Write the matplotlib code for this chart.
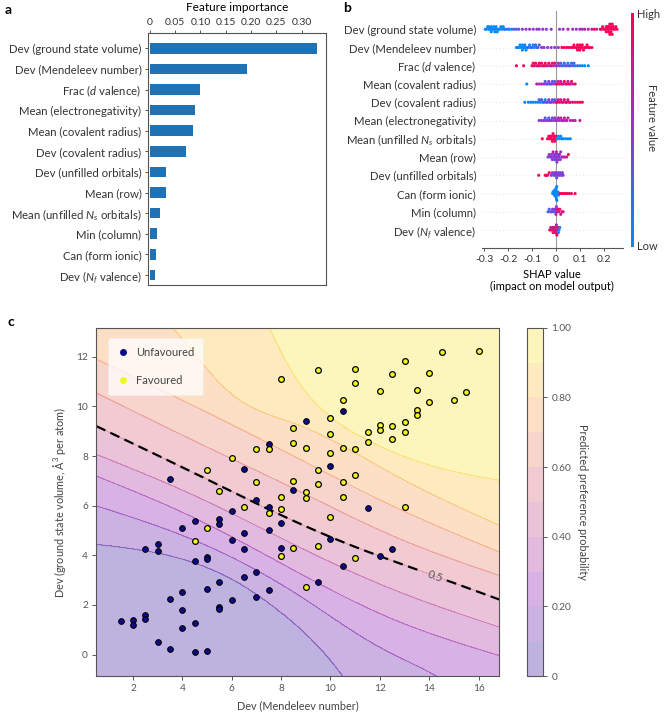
import numpy as np
import matplotlib
matplotlib.use('Agg')
import matplotlib.pyplot as plt
from matplotlib.colors import LinearSegmentedColormap, Normalize
from matplotlib.lines import Line2D
import matplotlib.colorbar as mcolorbar

plt.rcParams['font.family'] = ['Lato', 'DejaVu Sans']
plt.rcParams['mathtext.fontset'] = 'custom'
plt.rcParams['mathtext.it'] = 'Lato:italic'
plt.rcParams['mathtext.rm'] = 'Lato'
plt.rcParams['axes.unicode_minus'] = False

W, H = 669, 717

# ---------------- Panel a data ----------------
features_a = ['Dev (ground state volume)', 'Dev (Mendeleev number)', r'Frac ($d$ valence)',
              'Mean (electronegativity)', 'Mean (covalent radius)', 'Dev (covalent radius)',
              'Dev (unfilled orbitals)', 'Mean (row)', r'Mean (unfilled $N_s$ orbitals)',
              'Min (column)', 'Can (form ionic)', r'Dev ($N_f$ valence)']
importance = [0.331, 0.193, 0.100, 0.089, 0.085, 0.072, 0.033, 0.032, 0.021, 0.015, 0.012, 0.010]
imp_ticks = [0, 0.05, 0.10, 0.15, 0.20, 0.25, 0.30]
imp_ticklabels = ['0', '0.05', '0.10', '0.15', '0.20', '0.25', '0.30']

# ---------------- Panel b data ----------------
features_b = ['Dev (ground state volume)', 'Dev (Mendeleev number)', r'Frac ($d$ valence)',
              'Mean (covalent radius)', 'Dev (covalent radius)', 'Mean (electronegativity)',
              r'Mean (unfilled $N_s$ orbitals)', 'Mean (row)', 'Dev (unfilled orbitals)',
              'Can (form ionic)', 'Min (column)', r'Dev ($N_f$ valence)']
# SHAP values per row and feature-value codes (B=low ... R=high)
shap1 = [-0.295, -0.29, -0.285, -0.28, -0.28, -0.275, -0.27, -0.27, -0.265, -0.26, -0.26, -0.255,
         -0.25, -0.25, -0.245, -0.24, -0.235, -0.23, -0.225, -0.22, -0.215, -0.21, -0.2, -0.195,
         -0.185, -0.175, -0.165, -0.155, -0.14, -0.125, -0.11, -0.095, -0.08, -0.07, -0.055, -0.04,
         -0.02, 0.015, 0.03, 0.05, 0.07, 0.085, 0.1, 0.11, 0.12, 0.135, 0.15, 0.16, 0.17,
         0.185, 0.19, 0.195, 0.2, 0.205, 0.21, 0.21, 0.215, 0.215, 0.22, 0.22, 0.22, 0.225, 0.225,
         0.23, 0.23, 0.23, 0.235, 0.235, 0.24, 0.24, 0.245, 0.25, 0.255]
code1 = 'BBBBBBBBBBBBBBBBBBBBbBbBBbbb' + 'PPPPPPPPP' + 'PPpPPpPpppRp' + 'RRRRRRRRRRRRRRRRRRRRRRRR'
shap2 = [-0.165, -0.16, -0.155, -0.15, -0.145, -0.14, -0.14, -0.135, -0.13, -0.13, -0.125, -0.12,
         -0.115, -0.11, -0.105, -0.1, -0.095, -0.09, -0.085, -0.08, -0.075, -0.07,
         -0.06, -0.05, -0.035, -0.02, -0.005, 0.01,
         0.025, 0.035, 0.045, 0.055, 0.065, 0.07, 0.075, 0.08, 0.085, 0.09, 0.09, 0.095, 0.1, 0.1,
         0.105, 0.11, 0.11, 0.115, 0.12, 0.125, 0.13, 0.135, 0.14, 0.15]
code2 = 'BBBBBBBBBBBBbBBbBBbBbb' + 'PPPPPP' + 'RRRRRRRRRRRRRRRRRRRRRRRR'
shap3 = [-0.165, -0.135, -0.1, -0.095, -0.09, -0.085, -0.08, -0.075, -0.07, -0.065, -0.06, -0.055,
         -0.05, -0.045, -0.04, -0.035, -0.03, -0.025, -0.02, -0.015, -0.01, -0.005,
         0.0, 0.005, 0.01, 0.015,
         0.02, 0.025, 0.03, 0.035, 0.04, 0.045, 0.05, 0.055, 0.06, 0.065, 0.07, 0.075, 0.08, 0.09,
         0.1, 0.11, 0.12, 0.135]
code3 = 'RRRRRRpRRRRpRRRpRPRRpR' + 'PPPP' + 'bbBbPbBbbBbbBb' + 'BBBB'
shap4 = [-0.122, -0.08, -0.07, -0.06, -0.05, -0.045, -0.04, -0.035, -0.03, -0.025, -0.02, -0.015,
         -0.01, -0.005, 0.0, 0.005, 0.01, 0.015, 0.02, 0.025, 0.03, 0.035, 0.04, 0.045, 0.05, 0.055,
         0.06, 0.065, 0.07, 0.08]
code4 = 'BpPpPbPbPbPbPb' + 'pRpRpRpRpRpRpRpR'
shap5 = [-0.13, -0.115, -0.105, -0.095, -0.085, -0.075, -0.07, -0.065, -0.06, -0.055, -0.05,
         -0.045, -0.04, -0.035, -0.03, -0.025, -0.02, -0.015, -0.01, -0.005,
         0.0, 0.005, 0.01, 0.015, 0.02, 0.025, 0.03, 0.035, 0.04, 0.045, 0.05, 0.055, 0.06, 0.07,
         0.08, 0.09, 0.1, 0.11]
code5 = 'BBBBBBbBbBbBPbPbPbPb' + 'pRpRpRpRpRpRpRpRRR'
shap6 = [-0.07, -0.06, -0.05, -0.045, -0.04, -0.035, -0.03, -0.025, -0.02, -0.015, -0.01, -0.005,
         0.0, 0.005, 0.01, 0.015, 0.02, 0.025, 0.03, 0.035, 0.04, 0.045, 0.05, 0.06, 0.07, 0.08, 0.1]
code6 = 'PPPbPPbPPbPP' + 'pPpPpPppPpppppp'
shap7 = [-0.057, -0.035, -0.03, -0.025, -0.022, -0.02, -0.018, -0.015, -0.012, -0.01, -0.008,
         -0.005, -0.003, 0.0, 0.005, 0.01, 0.015, 0.02, 0.025, 0.03, 0.04, 0.05, 0.06]
code7 = 'RRRRRRRRRRRRRR' + 'BBBBBBBBB'
shap8 = [-0.033, -0.028, -0.024, -0.02, -0.018, -0.015, -0.012, -0.01, -0.008, -0.006, -0.004,
         -0.002, 0.0, 0.002, 0.004, 0.006, 0.008, 0.01, 0.012, 0.015, 0.018, 0.02, 0.024,
         0.03, 0.038, 0.045, 0.052]
code8 = 'PPbPPPpPPbPPPpPPbPPpPPP' + 'pppR'
shap9 = [-0.072, -0.045, -0.04, -0.035, -0.028, -0.02, -0.015, -0.01, -0.006, -0.003, 0.0, 0.003,
         0.006, 0.01, 0.014, 0.018, 0.022, 0.027, 0.03]
code9 = 'RRRRR' + 'PPbPPPbPPPbPPP'
shap10 = [-0.014, -0.012, -0.01, -0.008, -0.006, -0.005, -0.004, -0.003, -0.002, -0.001, 0.0,
          0.001, 0.002, 0.003, 0.004, 0.006, 0.008, 0.01,
          0.017, 0.025, 0.032, 0.04, 0.048, 0.056, 0.065, 0.08]
code10 = 'BBBBBBBBBBBBBBBBBB' + 'RRRRRRRR'
shap11 = [-0.033, -0.028, -0.022, -0.018, -0.014, -0.01, -0.007, -0.004, -0.002,
          0.0, 0.002, 0.005, 0.008, 0.012, 0.016, 0.02, 0.025, 0.03]
code11 = 'bbPbPbPbP' + 'pPpRpRpRp'
shap12 = [-0.026, -0.022, -0.018, -0.015, -0.012, -0.01, -0.008, -0.006, -0.004, -0.002, 0.0,
          0.002, 0.004, 0.006, 0.008, 0.01, 0.013, 0.016]
code12 = 'RpRpRpRpRpRpRpR' + 'bBB'
shap_rows = [shap1, shap2, shap3, shap4, shap5, shap6, shap7, shap8, shap9, shap10, shap11, shap12]
code_rows = [code1, code2, code3, code4, code5, code6, code7, code8, code9, code10, code11, code12]
code_values = {'B': 0.02, 'b': 0.28, 'P': 0.5, 'p': 0.72, 'R': 0.97}
shap_ticks = [-0.3, -0.2, -0.1, 0, 0.1, 0.2]
shap_ticklabels = ['-0.3', '-0.2', '-0.1', '0', '0.1', '0.2']

# ---------------- Panel c data ----------------
unf_x = [1.5, 2, 2, 2.5, 2.5, 2.5, 3, 3, 3, 3.5, 3.5, 3.5, 4, 4, 4, 4, 4.5, 4.5, 4.5, 4.5,
         5, 5, 5, 5, 5.5, 5.5, 5.5, 5.5, 5.5, 6, 6, 6, 6.5, 6.5, 6.5, 6.5, 7, 7, 7,
         7.5, 7.5, 7.5, 7.5, 8, 8, 8.5, 9, 9.5, 10, 10, 10.5, 11.5, 12, 12.5, 10.5]
unf_y = [1.36, 1.40, 1.18, 1.60, 1.44, 4.25, 4.44, 4.19, 0.52, 7.07, 2.23, 0.23, 5.09, 2.51,
         1.81, 1.06, 5.40, 3.77, 1.26, 0.12, 3.95, 3.87, 2.63, 0.15, 5.48, 5.28, 2.91, 1.93, 1.83,
         5.79, 4.62, 2.21, 7.48, 4.91, 4.26, 3.14, 6.24, 3.33, 2.32, 8.47, 5.96, 5.02, 2.60,
         5.32, 4.30, 6.62, 9.42, 2.91, 7.61, 4.67, 9.81, 5.92, 3.97, 4.26, 3.58]
fav_x = [4.5, 5, 5, 5.5, 6, 6.5, 7, 7, 7.5, 7.5, 8, 8, 8, 8, 8.5, 8.5, 8.5, 8.5, 9, 9, 9, 9,
         9.5, 9.5, 9.5, 9.5, 10, 10, 10, 10, 10.5, 10.5, 10.5, 10.5, 11, 11, 11, 11, 11,
         11.5, 11.5, 12, 12, 12, 12.5, 12.5, 12.5, 13, 13, 13, 13, 13.5, 13.5, 13.5, 14, 14,
         14.5, 15, 15.5, 16]
fav_y = [4.58, 5.09, 7.44, 6.59, 7.91, 5.93, 8.28, 6.97, 8.28, 5.69, 11.10, 6.34, 5.88, 3.99,
         9.13, 8.51, 7.01, 4.28, 8.34, 6.54, 6.32, 2.74, 11.48, 7.42, 6.86, 4.39, 9.53, 8.89,
         8.12, 5.54, 10.24, 8.31, 6.95, 6.36, 11.52, 10.94, 8.27, 7.23, 3.88, 8.95, 8.56,
         10.62, 9.26, 9.03, 11.32, 9.22, 8.67, 11.84, 9.36, 8.95, 5.96, 10.66, 9.87, 9.65,
         11.34, 10.17, 12.21, 10.27, 10.56, 12.25]
# predicted-probability iso-lines (knots x, y for each level)
iso_levels = [0.1, 0.2, 0.3, 0.4, 0.5, 0.6, 0.7, 0.8, 0.9]
iso_x = [[0.5, 3, 5.9, 8, 10.5, 12, 14, 16.9],
         [0.5, 4.5, 8.7, 12, 14.3, 16.9],
         [0.5, 4.5, 8.7, 12.6, 16.9],
         [0.5, 4.5, 8.7, 12.6, 16.9],
         [0.5, 4.5, 8.7, 11, 13.3, 16.9],
         [0.5, 4.5, 8.7, 12.6, 16.9],
         [0.5, 4.5, 8.7, 12.6, 16.9],
         [0.5, 2, 3.6, 5.86, 8.7, 12.6, 16.9],
         [0.5, 3, 6, 7.5, 8.2, 9.9, 11.46, 13.96, 16.9]]
iso_y = [[4.45, 4.1, 3.1, 1.7, -0.86, -3.3, -7.5, -13],
         [6.0, 4.6, 2.4, 0.3, -0.86, -2.6],
         [7.2, 5.5, 3.3, 1.4, -0.05],
         [8.07, 6.4, 4.35, 2.6, 1.09],
         [9.21, 7.3, 5.3, 4.34, 3.5, 2.2],
         [10.55, 8.6, 6.6, 4.75, 3.17],
         [11.9, 10.0, 7.9, 5.95, 4.11],
         [16.5, 14.8, 13.17, 10.6, 9.25, 7.24, 5.18],
         [24, 19.5, 15.3, 13.17, 11.8, 9.65, 8.65, 7.64, 7.0]]
c_xticks = [2, 4, 6, 8, 10, 12, 14, 16]
c_yticks = [0, 2, 4, 6, 8, 10, 12]
cb_ticks = [0, 0.2, 0.4, 0.6, 0.8, 1.0]
cb_ticklabels = ['0', '0.20', '0.40', '0.60', '0.80', '1.00']


def natural_spline(xk, yk, x):
    xk = np.asarray(xk, float)
    yk = np.asarray(yk, float)
    n = len(xk)
    h = np.diff(xk)
    A = np.zeros((n, n))
    r = np.zeros(n)
    A[0, 0] = A[-1, -1] = 1.0
    for i in range(1, n - 1):
        A[i, i - 1] = h[i - 1]
        A[i, i] = 2 * (h[i - 1] + h[i])
        A[i, i + 1] = h[i]
        r[i] = 3 * ((yk[i + 1] - yk[i]) / h[i] - (yk[i] - yk[i - 1]) / h[i - 1])
    c = np.linalg.solve(A, r)
    b = np.diff(yk) / h - h * (2 * c[:-1] + c[1:]) / 3
    d = (c[1:] - c[:-1]) / (3 * h)
    idx = np.clip(np.searchsorted(xk, x) - 1, 0, n - 2)
    dx = x - xk[idx]
    return yk[idx] + b[idx] * dx + c[idx] * dx ** 2 + d[idx] * dx ** 3


# ---------------- figure ----------------
fig = plt.figure(figsize=(W / 100, H / 100), dpi=100)


def px_axes(l, t, r, b):
    return fig.add_axes([l / W, 1 - b / H, (r - l) / W, (b - t) / H])


tick_col = '#333333'
spine_col = '#555555'

# ---- Panel a ----
axa = px_axes(147.7, 33.3, 326, 285)
ypos = np.arange(len(features_a))
axa.barh(ypos, importance, height=0.52, color='#1f72b4')
axa.set_ylim(len(features_a) - 0.51, -0.73)
axa.set_xlim(-0.004, 0.348)
axa.set_yticks(ypos)
axa.set_yticklabels(features_a, fontsize=8.2)
axa.xaxis.tick_top()
axa.xaxis.set_label_position('top')
axa.set_xticks(imp_ticks)
axa.set_xticklabels(imp_ticklabels, fontsize=7.5)
axa.set_xlabel('Feature importance', fontsize=8.5, labelpad=5)
for s in axa.spines.values():
    s.set_color(spine_col)
    s.set_linewidth(0.8)
axa.tick_params(length=2.5, width=0.7, color=spine_col, pad=2, labelcolor=tick_col)

# ---- Panel b ----
axb = px_axes(481.7, 11.0, 623, 248.3)
shap_cmap = LinearSegmentedColormap.from_list('shap_rb', ['#008bfb', '#8f36d8', '#ff0052'])
nrow = len(features_b)
binw = 0.008
step = 0.14
for i, (vals, codes) in enumerate(zip(shap_rows, code_rows)):
    vals = np.asarray(vals, float)
    fv = np.array([code_values[c] for c in codes[:len(vals)]])
    q = np.round(vals / binw)
    order = np.argsort(q, kind='stable')
    offs = np.zeros(len(vals))
    layer, last = 0, None
    for k in order:
        if q[k] != last:
            layer = 0
        offs[k] = np.ceil(layer / 2) * ((layer % 2) * 2 - 1) * step
        layer += 1
        last = q[k]
    m = np.max(np.abs(offs))
    if m > 0.38:
        offs *= 0.38 / m
    yc = nrow - 1 - i
    axb.axhline(yc, color='#cccccc', lw=0.5, dashes=(1, 4), zorder=-1)
    axb.scatter(vals, yc + offs, c=fv, cmap=shap_cmap, vmin=0, vmax=1, s=5, linewidths=0,
                zorder=3)
axb.axvline(0, color='#999999', lw=0.8, zorder=-1)
axb.set_ylim(-1, nrow)
axb.set_xlim(-0.31, 0.28)
axb.set_yticks(np.arange(nrow))
axb.set_yticklabels(features_b[::-1], fontsize=8.2)
axb.set_xticks(shap_ticks)
axb.set_xticklabels(shap_ticklabels, fontsize=7.5)
axb.set_xlabel('SHAP value\n(impact on model output)', fontsize=8, labelpad=4, linespacing=1.1)
for s in ['top', 'right', 'left']:
    axb.spines[s].set_visible(False)
axb.spines['bottom'].set_color(spine_col)
axb.spines['bottom'].set_linewidth(0.8)
axb.tick_params(axis='y', length=0, pad=4, labelcolor=tick_col)
axb.tick_params(axis='x', length=2.5, width=0.7, color=spine_col, pad=2, labelcolor=tick_col)

cbb = px_axes(630.5, 12.7, 633.8, 246.7)
cb1 = mcolorbar.ColorbarBase(cbb, cmap=shap_cmap, norm=Normalize(0, 1), orientation='vertical')
cb1.outline.set_visible(False)
cb1.set_ticks([])
fig.text(637 / W, 1 - 14 / H, 'High', fontsize=8, va='center', ha='left', color=tick_col)
fig.text(637 / W, 1 - 246 / H, 'Low', fontsize=8, va='center', ha='left', color=tick_col)
fig.text(652 / W, 1 - 118 / H, 'Feature value', fontsize=8, va='center', ha='center',
         rotation=270, color=tick_col)

# ---- Panel c ----
axc = px_axes(96.3, 327.7, 499.3, 676)
xlim = (0.51, 16.84)
ylim = (-0.86, 13.17)
gx = np.linspace(xlim[0], xlim[1], 400)
gy = np.linspace(ylim[0], ylim[1], 400)
curves = [natural_spline(xk, yk, gx) for xk, yk in zip(iso_x, iso_y)]
all_levels = [0.0] + list(iso_levels) + [1.0]
curves = [curves[0] - 10.0] + curves + [curves[-1] + 12.0]
Ycur = np.array(curves)              # (11, nx)
P = np.empty((len(gy), len(gx)))
for j in range(len(gx)):
    P[:, j] = np.interp(gy, Ycur[:, j], all_levels)
GX, GY = np.meshgrid(gx, gy)

levels = np.linspace(0, 1, 11)
cf = axc.contourf(GX, GY, P, levels=levels, cmap='plasma', alpha=0.3)
line_levels = [0.1, 0.2, 0.3, 0.4, 0.6, 0.7, 0.8, 0.9]
axc.contour(GX, GY, P, levels=line_levels, cmap='plasma', vmin=0, vmax=1, alpha=0.2,
            linewidths=0.8)
c5 = axc.contour(GX, GY, P, levels=[0.5], colors='k', linestyles=[(0, (4.5, 2.5))],
                 linewidths=1.6)
axc.clabel(c5, fmt={0.5: '0.5'}, inline=True, fontsize=8, colors='#555555',
           manual=[(14.2, 3.1)])

plasma = plt.get_cmap('plasma')
axc.scatter(unf_x, unf_y, s=17, color=plasma(0.0), edgecolors='k', linewidths=0.7, zorder=4)
axc.scatter(fav_x, fav_y, s=17, color=plasma(1.0), edgecolors='k', linewidths=0.9, zorder=5)
axc.set_xlim(*xlim)
axc.set_ylim(*ylim)
axc.set_xticks(c_xticks)
axc.set_yticks(c_yticks)
axc.tick_params(labelsize=7.3, length=3, width=0.7, color=spine_col, labelcolor='#555555', pad=3)
for s in axc.spines.values():
    s.set_color(spine_col)
    s.set_linewidth(0.8)
axc.set_xlabel('Dev (Mendeleev number)', fontsize=7.8, color='#444444', labelpad=5)
axc.set_ylabel('Dev (ground state volume, Å$^3$ per atom)', fontsize=7.8, color='#444444',
               labelpad=6)
handles = [Line2D([], [], marker='o', ls='', color=plasma(0.0), markersize=5, mew=0),
           Line2D([], [], marker='o', ls='', color=plasma(1.0), markersize=5, mew=0)]
leg = axc.legend(handles, ['Unfavoured', 'Favoured'], loc='upper left', fontsize=8,
                 labelspacing=1.5, handletextpad=0.5, borderpad=0.8, framealpha=0.75,
                 fancybox=True, bbox_to_anchor=(0.015, 0.985), handlelength=1.2)
leg.get_frame().set_edgecolor('#eeeeee')
leg.get_frame().set_linewidth(0.5)
for t in leg.get_texts():
    t.set_color('#444444')

cbc = px_axes(527, 327.7, 542.5, 676)
cb2 = fig.colorbar(cf, cax=cbc)
cb2.set_ticks(cb_ticks)
cb2.set_ticklabels(cb_ticklabels)
cb2.ax.tick_params(labelsize=7.3, length=3, width=0.7, color=spine_col, labelcolor='#555555')
cb2.outline.set_edgecolor(spine_col)
cb2.outline.set_linewidth(0.8)
cb2.set_label('Predicted preference probability', rotation=270, fontsize=7.8, color='#444444',
              labelpad=12)

# panel letters
fig.text(5 / W, 1 - 10 / H, 'a', fontsize=10, fontweight='bold', va='center', ha='left')
fig.text(343 / W, 1 - 8 / H, 'b', fontsize=10, fontweight='bold', va='center', ha='left')
fig.text(7 / W, 1 - 322 / H, 'c', fontsize=10, fontweight='bold', va='center', ha='left')

fig.savefig('out.png', dpi=100)
